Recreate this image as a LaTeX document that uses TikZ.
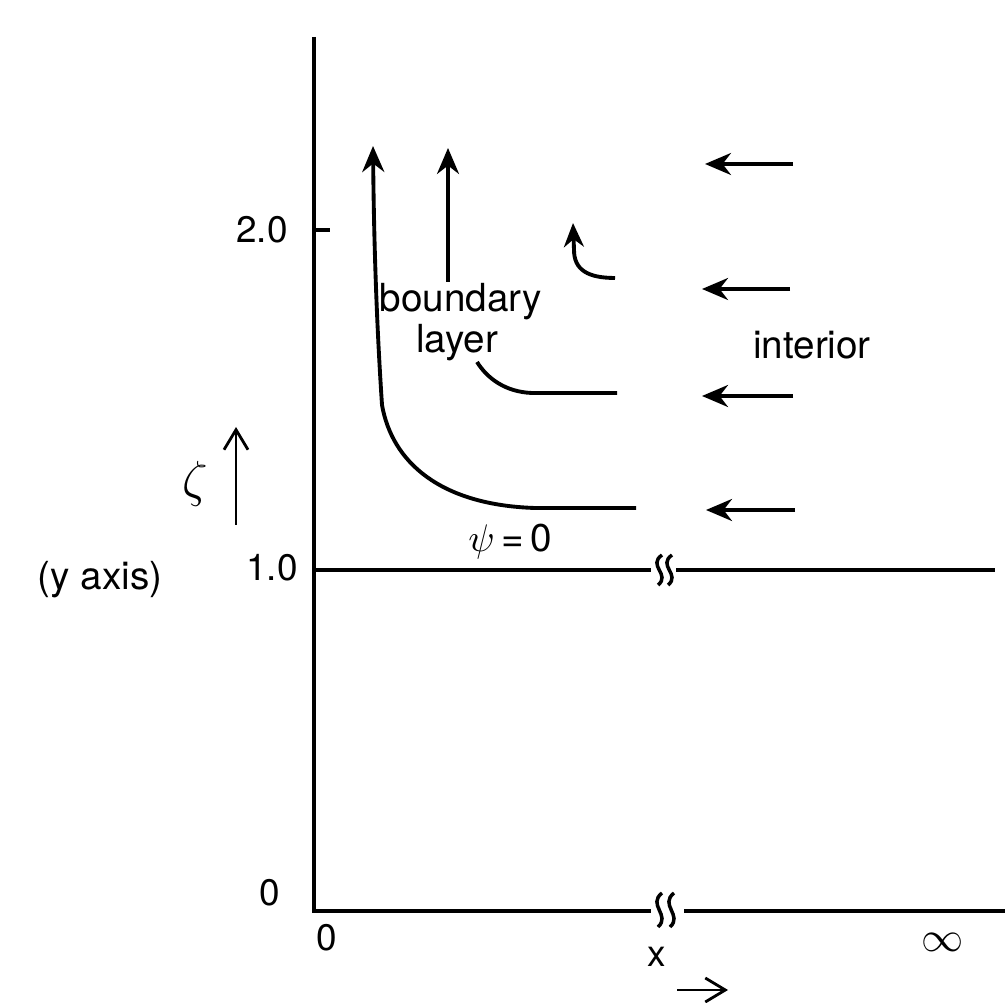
\documentclass[tikz,border=0pt]{standalone}
\usepackage{fontspec}
\setmainfont{TeX Gyre Heros}
\usetikzlibrary{arrows.meta}
\begin{document}
\begin{tikzpicture}[x=0.1mm,y=-0.1mm,
  axis/.style={line width=0.9pt},
  flow/.style={line width=1pt,-{Stealth[length=2.6mm,width=2.2mm]}},
  flowcurve/.style={line width=1.1pt},
  lbl/.style={font=\fontsize{11}{13}\selectfont, inner sep=0pt},
  num/.style={font=\fontsize{10.5}{12}\selectfont, inner sep=0pt},
  brk/.style={line width=1pt},
  thinarrow/.style={line width=0.8pt,-{Straight Barb[length=2mm,width=2.4mm]}}]
\useasboundingbox (0,0) rectangle (1005,1002);
% axes
\coordinate (ytop) at (314,37);
\coordinate (orig) at (314,911);
\coordinate (xb1) at (651,911);
\coordinate (xb2) at (684,911);
\coordinate (xend) at (1005,911);
\draw[axis] (ytop) -- (orig) -- (xb1);
\draw[axis] (xb2) -- (xend);
% line zeta=1
\coordinate (l1a) at (314,570);
\coordinate (l1b) at (651,570);
\coordinate (l1c) at (676,570);
\coordinate (l1d) at (995,570);
\draw[axis] (l1a) -- (l1b);
\draw[axis] (l1c) -- (l1d);
% tick at 2.0
\coordinate (t2a) at (314,230);
\coordinate (t2b) at (330,230);
\draw[axis] (t2a) -- (t2b);
% break marks
\foreach \bx/\by/\bh in {659/555/30, 669/555/30, 659/893/34, 671/893/34}{
  \draw[brk] (\bx+3,\by) .. controls (\bx-12,\by+0.35*\bh) and (\bx+12,\by+0.65*\bh) .. (\bx-1,\by+\bh);
}
% labels
\node[num] (n20) at (262,230) {2.0};
\node[num] (n10) at (272,568) {1.0};
\node[num] (n0y) at (270,893) {0};
\node[num] (n0x) at (327,938) {0};
\node[inner sep=0pt] (ninf) at (943,942) {\fontsize{13}{13}\selectfont$\infty$};
\node[num] (nx) at (657,957) {x};
\node[lbl] (yaxis) at (100,580) {(y axis)};
\node[inner sep=0pt] (zeta) at (195,484) {\fontsize{15}{15}\selectfont$\zeta$};
\node[inner sep=0pt] (psi) at (510,542) {\fontsize{11}{13}\selectfont$\psi$\,=\,0};
\node[lbl] (bnd) at (461,302) {boundary};
\node[lbl] (lay) at (457,343) {layer};
\node[lbl] (int) at (812,345) {interior};
% small axis arrows
\coordinate (za) at (236,525);
\coordinate (zb) at (236,427);
\draw[thinarrow] (za) -- (zb);
\coordinate (xa) at (677,990);
\coordinate (xc) at (728,990);
\draw[thinarrow] (xa) -- (xc);
% interior flow arrows
\foreach \i/\ya/\xa/\xb in {1/164/793/705, 2/289/790/702, 3/396/793/702, 4/510/795/706}{
  \coordinate (ia\i) at (\xa,\ya);
  \coordinate (ib\i) at (\xb,\ya);
  \draw[flow] (ia\i) -- (ib\i);
}
% boundary layer streamlines
\coordinate (c1s) at (636,508);
\coordinate (c1e) at (373,146);
\draw[flowcurve,-{Stealth[length=2.6mm,width=2.2mm]}] (c1s) -- (535,508) .. controls (440,505) and (392,462) .. (382,405) .. controls (377,330) and (374,250) .. (c1e);
\coordinate (a2s) at (448,282);
\coordinate (a2e) at (448,148);
\draw[flow] (a2s) -- (a2e);
\coordinate (c3s) at (617,393);
\coordinate (c3e) at (477,362);
\draw[flowcurve] (c3s) -- (532,393) .. controls (505,392) and (487,378) .. (c3e);
\coordinate (c4s) at (615,278);
\coordinate (c4e) at (573,223);
\draw[flowcurve,-{Stealth[length=2.4mm,width=2mm]}] (c4s) .. controls (588,278) and (574,270) .. (574,250) -- (c4e);
\end{tikzpicture}
\end{document}
